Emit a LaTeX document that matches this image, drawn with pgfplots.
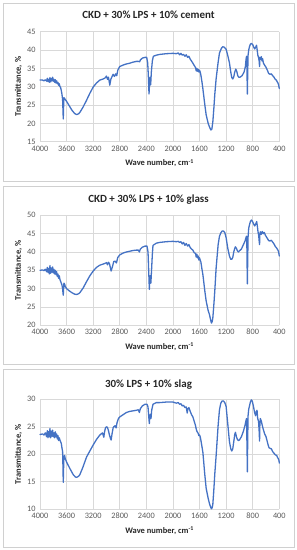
\documentclass[border=0pt]{standalone}
\usepackage{fontspec}
\setmainfont{Carlito}
\usepackage{pgfplots}
\usepackage{pgfplotstable}
\pgfplotsset{compat=1.18}
\definecolor{xlblue}{HTML}{4472C4}
\definecolor{gridc}{HTML}{D9D9D9}
\definecolor{tickc}{HTML}{595959}
\definecolor{boxc}{HTML}{D0D0D0}

\pgfplotstableread{
wn t
4000 31.8
3960 31.8
3940 31.6
3920 31.9
3900 31.5
3890 32.3
3880 31.4
3870 32.0
3860 31.2
3850 32.5
3840 31.3
3830 32.2
3820 31.6
3810 32.6
3800 31.5
3790 32.0
3780 31.2
3770 31.9
3760 31.0
3750 31.6
3740 30.8
3730 31.2
3720 30.4
3710 30.8
3700 30.0
3690 29.8
3680 29.0
3670 28.0
3660 26.5
3655 24.0
3650 21.2
3645 24.5
3640 27.0
3630 26.8
3620 26.5
3600 26.0
3560 24.8
3520 23.6
3480 22.7
3450 22.4
3420 22.6
3400 23.0
3350 24.5
3300 26.3
3250 28.2
3200 29.9
3150 31.0
3100 31.8
3050 32.1
3020 32.4
3000 32.9
2985 32.0
2970 32.6
2950 30.4
2935 32.0
2920 32.6
2900 33.4
2880 32.8
2860 33.5
2845 33.0
2830 34.5
2810 35.2
2800 35.5
2750 35.9
2700 36.2
2650 36.4
2600 36.7
2550 36.9
2520 36.9
2500 36.8
2490 37.3
2460 37.8
2420 38.0
2395 38.0
2380 36.5
2370 33.0
2360 28.0
2350 31.5
2345 32.5
2335 30.5
2325 34.0
2310 37.0
2295 38.3
2250 38.6
2200 38.8
2100 39.0
2000 39.1
1950 39.0
1920 39.2
1900 38.7
1880 39.1
1860 38.6
1840 38.8
1820 38.3
1800 38.7
1780 38.0
1760 38.3
1740 37.5
1720 37.0
1700 36.4
1680 35.8
1660 35.2
1650 34.3
1640 35.0
1630 34.2
1620 34.7
1610 34.0
1600 34.5
1590 34.0
1580 33.2
1565 31.5
1550 29.5
1520 25.0
1500 22.3
1470 20.0
1450 19.0
1430 18.2
1415 18.4
1400 20.4
1385 24.0
1370 28.0
1350 32.2
1320 36.7
1300 39.2
1270 40.5
1250 40.9
1230 40.8
1200 40.2
1175 38.5
1150 36.5
1130 34.0
1115 32.5
1100 32.1
1085 32.7
1070 34.0
1055 34.8
1040 34.2
1025 33.0
1010 32.6
990 32.6
960 33.0
930 34.0
910 35.5
900 37.5
893 38.3
888 37.0
884 32.0
880 28.0
876 33.0
870 38.5
860 40.0
850 40.8
835 41.6
820 41.8
800 41.5
785 40.8
770 40.3
755 40.8
742 41.3
733 40.0
722 38.5
712 38.0
703 37.0
697 35.5
692 38.0
680 37.5
670 38.2
660 37.0
650 37.6
640 36.5
625 36.0
600 35.3
580 34.5
560 33.6
540 33.4
520 33.5
500 33.0
480 32.6
460 32.0
445 31.8
430 31.3
420 31.0
410 30.5
400 29.5
}\dataA

\pgfplotstableread{
wn t
4000 35.0
3960 35.1
3940 34.9
3920 35.3
3900 34.6
3890 35.8
3880 34.4
3870 35.5
3860 34.0
3850 36.3
3840 34.2
3830 35.6
3820 34.5
3810 35.9
3800 34.3
3790 35.3
3780 34.0
3770 35.0
3760 33.8
3750 34.6
3740 33.3
3730 34.0
3720 32.8
3710 33.5
3700 32.5
3690 32.0
3680 31.5
3670 31.0
3660 30.0
3655 29.0
3650 28.2
3645 30.0
3640 31.5
3630 31.2
3620 30.6
3600 30.0
3560 29.4
3520 28.9
3480 28.5
3450 28.4
3420 28.6
3400 28.9
3350 30.2
3300 31.9
3250 33.5
3200 34.8
3150 35.8
3100 36.4
3050 36.7
3020 36.9
3000 37.1
2985 36.5
2970 37.2
2955 36.8
2930 34.8
2910 36.0
2890 37.4
2870 37.5
2850 37.0
2830 38.5
2800 39.2
2750 39.7
2700 40.0
2650 40.2
2600 40.4
2550 40.5
2520 40.5
2505 40.0
2490 40.8
2460 41.3
2420 41.6
2390 41.6
2375 40.0
2365 35.0
2355 29.8
2348 32.5
2340 33.5
2332 31.5
2322 35.0
2310 39.3
2300 41.8
2250 42.4
2200 42.6
2100 42.8
2000 42.9
1950 42.8
1920 42.9
1900 42.6
1880 42.8
1860 42.2
1840 42.6
1820 41.8
1800 42.3
1780 41.6
1760 42.0
1740 41.2
1720 40.8
1700 40.5
1680 39.8
1660 39.6
1650 38.6
1640 39.4
1630 38.4
1620 38.9
1610 37.8
1600 38.4
1590 37.8
1580 37.3
1565 35.5
1550 33.9
1520 29.3
1500 26.6
1470 24.0
1450 22.9
1430 21.2
1420 20.6
1410 21.0
1400 22.0
1385 25.5
1370 29.5
1350 35.7
1320 42.0
1300 44.3
1280 45.2
1260 45.7
1240 45.7
1220 45.3
1200 43.9
1175 41.0
1150 38.9
1130 38.0
1115 38.0
1100 38.5
1085 40.0
1070 41.0
1060 41.4
1045 41.0
1030 40.3
1015 40.0
1000 40.3
970 40.8
940 42.0
915 43.0
900 44.0
893 44.3
888 42.0
884 36.0
880 31.3
876 37.0
870 44.0
860 46.5
850 47.3
835 48.3
820 48.7
805 48.4
790 47.8
770 47.1
755 47.6
740 48.3
730 47.0
720 45.5
710 44.5
703 43.0
697 42.0
692 45.0
685 45.5
670 44.8
655 45.6
640 45.0
625 45.3
610 44.6
600 44.3
580 43.7
560 43.1
540 43.0
520 43.2
500 42.7
480 42.2
460 41.5
445 41.2
430 40.8
420 40.5
410 40.0
400 38.9
}\dataB

\pgfplotstableread{
wn t
4000 23.6
3960 23.7
3940 23.5
3920 23.9
3900 23.2
3890 24.3
3880 23.0
3870 24.1
3860 23.2
3850 24.7
3840 23.0
3830 24.2
3820 23.3
3810 24.4
3800 23.2
3790 23.9
3780 23.0
3770 24.1
3760 23.2
3750 23.7
3740 22.8
3730 23.4
3720 22.5
3710 23.0
3700 22.6
3690 22.3
3680 22.0
3670 21.2
3660 20.5
3655 18.0
3650 14.9
3645 17.5
3640 19.5
3630 19.8
3620 19.2
3600 18.6
3550 17.4
3500 16.3
3470 15.9
3450 15.8
3420 16.0
3400 16.3
3350 17.8
3300 19.5
3250 20.6
3200 21.7
3150 22.7
3100 23.5
3060 23.9
3050 23.5
3040 23.1
3030 24.0
3015 24.8
3000 25.0
2985 24.9
2970 24.3
2955 23.5
2940 22.9
2930 22.6
2915 23.8
2900 24.8
2890 25.0
2870 25.2
2855 24.8
2840 25.8
2820 26.5
2800 26.8
2750 27.2
2700 27.6
2650 27.8
2600 27.9
2550 28.0
2520 28.1
2505 27.6
2490 28.3
2460 28.8
2420 29.1
2390 29.1
2375 28.6
2365 27.0
2355 25.6
2348 26.8
2340 27.3
2330 26.5
2320 28.0
2300 29.1
2250 29.4
2200 29.4
2100 29.5
2000 29.5
1950 29.3
1920 29.4
1900 29.1
1880 29.2
1860 28.8
1840 28.9
1820 28.5
1800 28.6
1785 27.5
1775 28.3
1760 28.5
1740 27.8
1720 27.2
1700 26.8
1680 26.0
1660 25.2
1650 24.6
1640 24.2
1630 24.0
1620 23.8
1610 23.4
1600 23.5
1590 23.2
1580 22.6
1565 21.5
1550 20.4
1520 16.2
1500 13.8
1470 12.0
1450 11.0
1430 10.3
1420 10.1
1410 10.3
1400 10.9
1385 13.5
1370 16.5
1350 19.8
1320 25.3
1300 28.1
1280 29.3
1260 29.7
1240 29.7
1220 29.4
1200 28.7
1175 25.5
1150 22.3
1130 21.0
1115 20.6
1100 21.0
1085 22.3
1070 23.6
1060 24.0
1045 23.2
1030 22.7
1015 22.5
1000 22.6
970 23.2
940 24.2
915 25.3
900 26.2
893 26.5
888 23.0
884 20.0
880 16.8
876 22.0
870 27.0
860 28.2
850 28.7
835 29.5
820 29.9
805 29.6
790 28.8
770 27.5
755 27.0
745 27.8
735 28.0
725 26.5
712 26.0
702 24.0
697 22.4
692 25.5
685 26.5
670 26.0
655 25.2
640 24.5
620 23.7
600 23.2
585 22.5
570 21.8
555 21.2
540 21.1
520 21.0
500 20.5
480 20.2
460 19.9
440 19.8
425 19.4
415 19.2
405 18.9
400 18.4
}\dataC

\pgfplotsset{
  ftir/.style={
    scale only axis,
    width=239.3bp, height=110bp,
    x dir=reverse,
    xmin=400, xmax=4000,
    xtick={400,800,...,4000},
    grid=major,
    major grid style={gridc, line width=0.6bp},
    axis line style={draw=none},
    tick style={draw=none},
    ticklabel style={font=\fontsize{8.3}{9}\selectfont, text=tickc},
    xticklabel style={yshift=-0.5bp},
    yticklabel style={xshift=-1bp},
    /pgf/number format/assume math mode=true,
    /pgf/number format/1000 sep={},
    xlabel={Wave number, cm\textsuperscript{-1}},
    ylabel={Transmittance, \%},
    label style={font=\bfseries\fontsize{8.5}{9.5}\selectfont, text=black!85},
    x label style={at={(axis description cs:0.5,-0.195)}, anchor=center},
    y label style={at={(axis description cs:-0.09,0.5)}, anchor=center},
    clip=false,
  },
  ftirline/.style={xlblue, line width=1.3bp, line join=round, line cap=round},
}

\begin{document}
\begin{tikzpicture}
\path[use as bounding box] (0,0) rectangle (297bp,550bp);
\draw[boxc, line width=0.6bp] (3bp,369bp) rectangle (294bp,547bp);
\draw[boxc, line width=0.6bp] (3bp,186bp) rectangle (294bp,364bp);
\draw[boxc, line width=0.6bp] (3bp,3bp) rectangle (294bp,181bp);

\begin{axis}[ftir, at={(40bp,408.3bp)}, anchor=south west,
  ymin=15, ymax=45, ytick={15,20,...,45}]
\addplot[ftirline] table[x=wn, y=t] {\dataA};
\end{axis}
\node[font=\bfseries\fontsize{11}{13}\selectfont, text=black!85] at (148.5bp,535bp) {CKD + 30\% LPS + 10\% cement};

\begin{axis}[ftir, at={(40bp,224.7bp)}, anchor=south west,
  ymin=20, ymax=50, ytick={20,25,...,50}]
\addplot[ftirline] table[x=wn, y=t] {\dataB};
\end{axis}
\node[font=\bfseries\fontsize{11}{13}\selectfont, text=black!85] at (148.5bp,350.3bp) {CKD + 30\% LPS + 10\% glass};

\begin{axis}[ftir, at={(40bp,40.7bp)}, anchor=south west,
  ymin=10, ymax=30, ytick={10,15,...,30}]
\addplot[ftirline] table[x=wn, y=t] {\dataC};
\end{axis}
\node[font=\bfseries\fontsize{11}{13}\selectfont, text=black!85] at (148.5bp,165.7bp) {30\% LPS + 10\% slag};
\end{tikzpicture}
\end{document}
